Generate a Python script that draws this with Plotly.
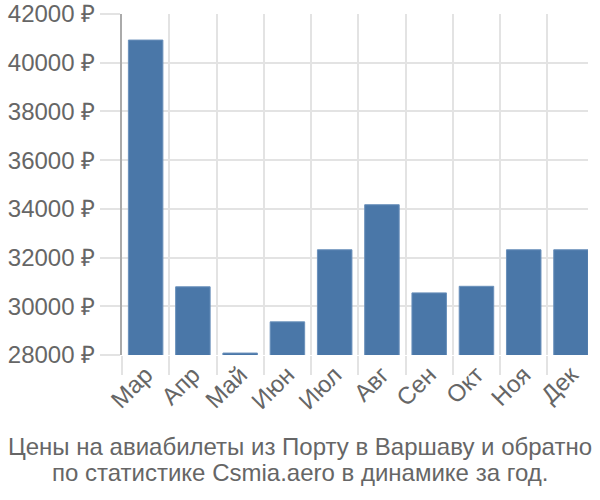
import plotly.graph_objects as go

months = ["Мар", "Апр", "Май", "Июн", "Июл", "Авг", "Сен", "Окт", "Ноя", "Дек"]
prices = [40930, 30800, 28080, 29360, 32320, 34170, 30550, 30820, 32320, 32320]
y_ticks = [28000, 30000, 32000, 34000, 36000, 38000, 40000, 42000]
y_tick_labels = [f"{v} ₽" for v in y_ticks]
title_lines = [
    "Цены на авиабилеты из Порту в Варшаву и обратно",
    "по статистике Csmia.aero в динамике за год.",
]

font_family = "Liberation Sans, Arial, sans-serif"
text_color = "#666666"
grid_color = "#e3e3e3"
fs = 24

L, R, T, B = 122, 12, 14, 145
W, H = 600, 500
pw, ph = W - L - R, H - T - B

fig = go.Figure()
fig.add_trace(go.Bar(
    x=months,
    y=prices,
    marker=dict(color="#4a77a8", line=dict(width=1, color="#6a90bb")),
    width=0.73,
))

for i, line in enumerate(title_lines):
    ypix = 446 + 26 * i
    fig.add_annotation(
        text=line,
        xref="paper", yref="paper",
        x=(300 - L) / pw, y=(H - B - ypix) / ph,
        xanchor="center", yanchor="middle",
        showarrow=False,
        font=dict(family=font_family, size=fs, color=text_color),
    )

fig.update_layout(
    width=W,
    height=H,
    margin=dict(l=L, r=R, t=T, b=B),
    paper_bgcolor="white",
    plot_bgcolor="white",
    showlegend=False,
    font=dict(family=font_family, color=text_color, size=fs),
    xaxis=dict(
        type="category",
        range=[-0.5, 9.36],
        tickson="boundaries",
        ticks="outside",
        ticklen=19,
        tickcolor=grid_color,
        tickwidth=2,
        showgrid=True,
        gridcolor=grid_color,
        gridwidth=2,
        tickangle=-45,
        tickfont=dict(size=fs, color=text_color),
        showline=False,
        zeroline=False,
        automargin=False,
    ),
    yaxis=dict(
        range=[28000, 42000],
        tickvals=y_ticks,
        ticktext=y_tick_labels,
        ticks="outside",
        ticklen=20,
        tickcolor=grid_color,
        tickwidth=2,
        showgrid=True,
        gridcolor=grid_color,
        gridwidth=2,
        showline=True,
        linecolor="#aaaaaa",
        linewidth=2,
        zeroline=False,
        tickfont=dict(size=fs, color=text_color),
        automargin=False,
    ),
)

fig.write_html(
    "out.html",
    config={"displayModeBar": False},
    post_script="document.body.style.margin='0';document.body.style.padding='0';",
)
